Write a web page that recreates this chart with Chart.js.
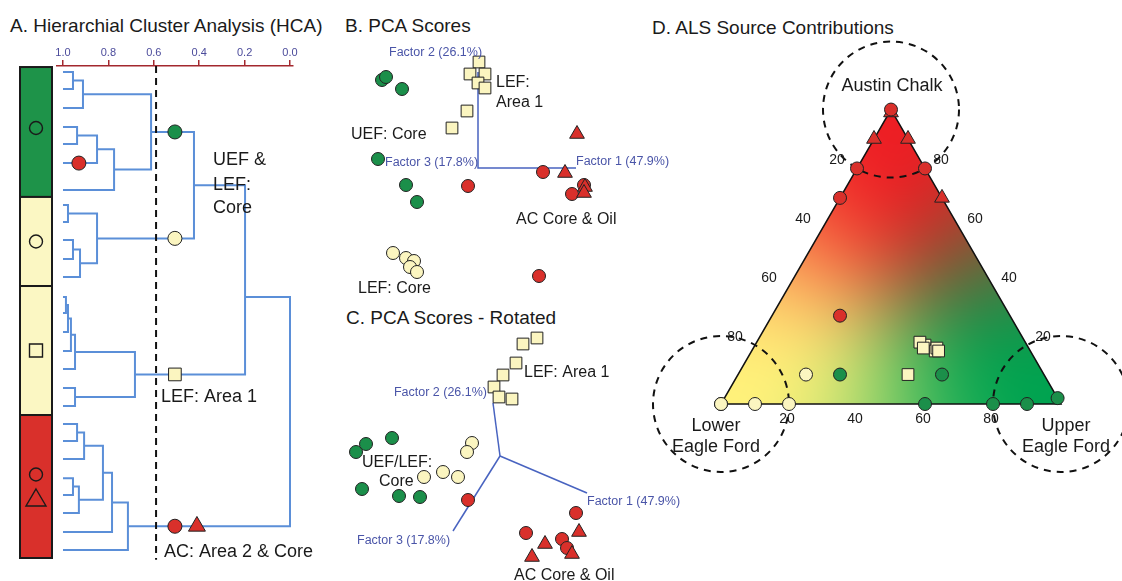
<!DOCTYPE html>
<html>
<head>
<meta charset="utf-8">
<script src="https://cdn.jsdelivr.net/npm/chart.js@4.4.0/dist/chart.umd.min.js"></script>
<style>
  body { margin: 0; background: #fff; width: 1122px; height: 581px; overflow: hidden; position: relative;
         font-family: "Liberation Sans", Arial, sans-serif; }
  canvas { position: absolute; left: 0; top: 0; }
  .ttl { position: absolute; font-size: 19px; line-height: 1; color: #1a1a1a; white-space: nowrap; }
</style>
</head>
<body>
<div class="ttl" style="left:10px;top:15.5px">A. Hierarchial Cluster Analysis (HCA)</div>
<div class="ttl" style="left:345px;top:15.5px">B. PCA Scores</div>
<div class="ttl" style="left:346px;top:307.5px">C. PCA Scores - Rotated</div>
<div class="ttl" style="left:652px;top:17.5px">D. ALS Source Contributions</div>
<canvas id="hca" width="1122" height="581"></canvas>
<canvas id="pcaB" width="1122" height="581"></canvas>
<canvas id="pcaC" width="1122" height="581"></canvas>
<canvas id="als" width="1122" height="581"></canvas>
<script>
// ---------- A. HCA dendrogram ----------
// leaf positions along the tree (leaf rows, top to bottom)
const leafRows = [0, 0.92, 1.96, 2.99, 3.91, 4.95, 6.41,
                  7.23, 8.15, 9.13, 10.16, 11.14,
                  12.23, 13.10, 14.13, 15.16, 16.14, 17.17, 18.15,
                  19.13, 20.05, 21.03, 22.07, 22.99, 23.97, 25.0, 25.98];
// merges: [idA, idB, similarity]; id >= leafRows.length means merge (id - 27)
const merges = [
  [0, 1, 0.956], [27, 2, 0.912], [3, 4, 0.938], [29, 5, 0.850], [30, 6, 0.775], [28, 31, 0.612],
  [7, 8, 0.978], [9, 10, 0.956], [34, 11, 0.925], [33, 35, 0.850],
  [32, 36, 0.423],
  [12, 13, 0.987], [38, 14, 0.978], [39, 15, 0.965], [40, 16, 0.947], [17, 18, 0.947], [41, 42, 0.683],
  [37, 43, 0.198],
  [19, 20, 0.938], [45, 21, 0.907], [22, 23, 0.956], [47, 24, 0.930], [46, 48, 0.824], [49, 25, 0.784], [50, 26, 0.714],
  [44, 51, 0.0]
];
const nodeRowOverride = { 44: 12.23 };
const hcaTicks = [1.0, 0.8, 0.6, 0.4, 0.2, 0.0];
const cutLevel = 0.59;
const bandEdges = [-0.27, 6.79, 11.63, 18.64, 26.41];
const bandClasses = ['uef', 'lefCore', 'lefArea', 'ac'];
// cluster markers: [node id, similarity, class]
const hcaMarkers = [[32, 0.507, 'uef'], [36, 0.507, 'lefCore'], [43, 0.507, 'lefArea'],
                    [51, 0.507, 'acCore'], [51, 0.41, 'acOil'], [5, 0.93, 'acCore']];

// ---------- B. PCA scores ----------
const bLefArea = [[0.1, 10.6], [-0.8, 9.4], [0.7, 9.4], [0, 8.5], [0.7, 8.0], [-1.1, 5.7], [-2.6, 4.0]];
const bUef = [[-9.6, 8.8], [-9.2, 9.1], [-7.6, 7.9], [-10.0, 0.9], [-7.2, -1.7], [-6.1, -3.4]];
const bLefCore = [[-8.5, -8.5], [-7.2, -9.0], [-6.4, -9.3], [-6.8, -9.9], [-6.1, -10.4]];
const bAcCore = [[-1.0, -1.8], [6.5, -0.4], [10.6, -1.7], [9.4, -2.6], [6.1, -10.8]];
const bAcOil = [[9.9, 3.4], [8.7, -0.5], [10.7, -1.9], [10.6, -2.5]];
const bLoadings = [[0, 9.6], [0, 0], [9.8, 0]];

// ---------- C. PCA scores rotated ----------
const cLefArea = [[3.7, 11.8], [2.3, 11.2], [1.6, 9.3], [0.3, 8.1], [-0.6, 6.9], [-0.1, 5.9], [1.2, 5.7]];
const cUef = [[-14.4, 0.4], [-13.4, 1.2], [-10.8, 1.8], [-13.8, -3.3], [-10.1, -4.0], [-8.0, -4.1]];
const cLefCore = [[-2.8, 1.3], [-3.3, 0.4], [-7.6, -2.1], [-5.7, -1.6], [-4.2, -2.1]];
const cAcCore = [[-3.2, -4.4], [7.6, -5.7], [2.6, -7.7], [6.2, -8.3], [6.7, -9.2]];
const cAcOil = [[7.9, -7.6], [4.5, -8.8], [3.2, -10.1], [7.2, -9.8]];
const cLoadings = [[[0, 0], [-0.7, 5.3]], [[0, 0], [8.7, -3.7]], [[0, 0], [-4.7, -7.5]]];

// ---------- D. ALS contributions, [UEF %, LEF %, AC %] ----------
const dUef = [[30, 60, 10], [60, 30, 10], [60, 40, 0], [80, 20, 0], [90, 10, 0], [98, 0, 2]];
const dLefCore = [[0, 100, 0], [0, 100, 0], [10, 90, 0], [20, 80, 0], [20, 70, 10]];
const dLefArea = [[50, 40, 10], [50, 30, 20], [48, 31, 21], [54, 28, 18], [54, 27, 19], [50, 31, 19], [55, 27, 18]];
const dAcCore = [[0, 0, 100], [0, 20, 80], [20, 0, 80], [0, 30, 70], [20, 50, 30]];
const dAcOil = [[0.5, 0.5, 99], [0, 10, 90], [10, 0, 90], [30, 0, 70]];
const ternTicks = [20, 40, 60, 80];

// ---------- styles ----------
Chart.defaults.font.family = '"Liberation Sans", Arial, sans-serif';
Chart.defaults.animation = false;
Chart.defaults.responsive = false;
Chart.defaults.devicePixelRatio = 1;
Chart.defaults.plugins.legend.display = false;
Chart.defaults.plugins.tooltip.enabled = false;

const GREEN = '#1b8f4a', YELLOW = '#fbf5c0', RED = '#d9302b';
const STYLE = {
  uef: { bg: GREEN, shape: 'circle' },
  lefCore: { bg: YELLOW, shape: 'circle' },
  lefArea: { bg: YELLOW, shape: 'rect' },
  acCore: { bg: RED, shape: 'circle' },
  acOil: { bg: RED, shape: 'triangle' }
};
const RADIUS = { circle: 6.5, rect: 8.3, triangle: 8.5 };
const BAND_FILL = { uef: '#1e9349', lefCore: '#fbf7c3', lefArea: '#fbf7c3', ac: '#d9302b' };
const BAND_SYMBOLS = { uef: ['circle'], lefCore: ['circle'], lefArea: ['rect'], ac: ['circle', 'triangle'] };
const FACTOR_BLUE = '#4a55a8';
const LOAD_BLUE = '#4863c0';

function pointSet(points, cls, scale) {
  const s = STYLE[cls];
  return {
    data: points.map(p => ({ x: p[0], y: p[1] })),
    pointStyle: s.shape, pointRadius: RADIUS[s.shape] * (scale || 1),
    backgroundColor: s.bg, borderColor: '#222', borderWidth: 1,
    showLine: false, clip: false, order: 0
  };
}
function lineSet(points, color, width, extra) {
  return Object.assign({
    data: points.map(p => ({ x: p[0], y: p[1] })), showLine: true, pointRadius: 0,
    borderColor: color, borderWidth: width, fill: false, clip: false, order: 2
  }, extra || {});
}
function hiddenScales(xmin, xmax, ymin, ymax) {
  return {
    x: { type: 'linear', display: false, min: xmin, max: xmax },
    y: { type: 'linear', display: false, min: ymin, max: ymax }
  };
}
function drawTexts(chart, items) {
  const { ctx, scales: { x, y } } = chart;
  ctx.save();
  items.forEach(t => {
    ctx.font = (t.size || 16) + 'px "Liberation Sans", Arial, sans-serif';
    ctx.fillStyle = t.color || '#1a1a1a';
    ctx.textAlign = t.align || 'left';
    ctx.textBaseline = 'middle';
    ctx.fillText(t.text, x.getPixelForValue(t.x) + (t.dx || 0), y.getPixelForValue(t.y) + (t.dy || 0));
  });
  ctx.restore();
}
function glyph(ctx, shape, cx, cy) {
  ctx.beginPath();
  if (shape === 'circle') ctx.arc(cx, cy, 6.5, 0, Math.PI * 2);
  else if (shape === 'rect') ctx.rect(cx - 6.5, cy - 6.5, 13, 13);
  else { ctx.moveTo(cx, cy - 9.5); ctx.lineTo(cx + 10, cy + 7.5); ctx.lineTo(cx - 10, cy + 7.5); ctx.closePath(); }
  ctx.stroke();
}

// ---------- A ----------
const nLeaf = leafRows.length;
const nodeRow = leafRows.slice();
const nodeH = leafRows.map(() => 1.0);
const dendroSets = [];
merges.forEach(([a, b, h], i) => {
  const id = nLeaf + i;
  nodeRow[id] = nodeRowOverride[id] !== undefined ? nodeRowOverride[id] : (nodeRow[a] + nodeRow[b]) / 2;
  nodeH[id] = h;
  dendroSets.push(lineSet([[nodeH[a], nodeRow[a]], [h, nodeRow[a]], [h, nodeRow[b]], [nodeH[b], nodeRow[b]]],
    '#5b8fd8', 2, { order: 3, borderJoinStyle: 'miter' }));
});
const hcaMarkerSets = hcaMarkers.map(([node, h, cls]) => {
  const s = pointSet([[h, nodeRow[node]]], cls, 1.08);
  if (cls === 'acOil') s.pointRadius = 9.8;
  return s;
});
const hcaLabels = [
  { text: 'UEF &', x: 0.339, y: 4.78, size: 18 },
  { text: 'LEF:', x: 0.339, y: 6.14, size: 18 },
  { text: 'Core', x: 0.339, y: 7.39, size: 18 },
  { text: 'LEF: Area 1', x: 0.568, y: 17.66, size: 18 },
  { text: 'AC: Area 2 & Core', x: 0.555, y: 26.09, size: 18 }
];
const hcaDecor = {
  id: 'hcaDecor',
  beforeDatasetsDraw(chart) {
    const { ctx, chartArea, scales: { y } } = chart;
    const right = chartArea.left - 5, w = 32;
    ctx.save();
    bandClasses.forEach((cls, i) => {
      const y0 = y.getPixelForValue(bandEdges[i]), y1 = y.getPixelForValue(bandEdges[i + 1]);
      ctx.fillStyle = BAND_FILL[cls];
      ctx.fillRect(right - w, y0, w, y1 - y0);
      ctx.strokeStyle = '#1a1a1a'; ctx.lineWidth = 2;
      ctx.strokeRect(right - w, y0, w, y1 - y0);
      const syms = BAND_SYMBOLS[cls];
      const mid = (y0 + y1) / 2 - (i === 0 ? 4 : 0);
      ctx.lineWidth = 1.4;
      syms.forEach((sh, k) => glyph(ctx, sh, right - w / 2, mid + (k - (syms.length - 1) / 2) * 24));
    });
    ctx.restore();
  },
  afterDatasetsDraw(chart) { drawTexts(chart, hcaLabels); }
};
new Chart(document.getElementById('hca'), {
  type: 'scatter',
  data: {
    datasets: [
      ...hcaMarkerSets,
      lineSet([[cutLevel, -0.33], [cutLevel, 26.5]], '#111', 2, { borderDash: [7, 5], order: 1 }),
      ...dendroSets
    ]
  },
  options: {
    layout: { padding: { left: 57, right: 829, top: 36, bottom: 0 }, autoPadding: false },
    scales: {
      x: {
        type: 'linear', position: 'top', reverse: true, min: -0.0132, max: 1.0264,
        afterBuildTicks: s => { s.ticks = hcaTicks.map(v => ({ value: v })); },
        afterFit: s => { s.height = 30; },
        ticks: { color: '#4b4b9b', font: { size: 11 }, padding: 0, maxRotation: 0, autoSkip: false,
                 callback: v => Number(v).toFixed(1) },
        grid: { drawOnChartArea: false, drawTicks: true, tickLength: 6, color: '#a3282e', lineWidth: 1.5 },
        border: { display: true, color: '#a3282e', width: 1.5 }
      },
      y: { type: 'linear', display: false, reverse: true, min: -0.326, max: 27.66 }
    }
  },
  plugins: [hcaDecor]
});

// ---------- B ----------
const bLabels = [
  { text: 'LEF:', x: 1.8, y: 8.5 }, { text: 'Area 1', x: 1.8, y: 6.5 },
  { text: 'UEF: Core', x: -12.7, y: 3.3 },
  { text: 'AC Core & Oil', x: 3.8, y: -5.2 },
  { text: 'LEF: Core', x: -12.0, y: -12.1 },
  { text: 'Factor 2 (26.1%)', x: -8.9, y: 11.5, size: 12.5, color: FACTOR_BLUE },
  { text: 'Factor 3 (17.8%)', x: -9.3, y: 0.5, size: 12.5, color: FACTOR_BLUE },
  { text: 'Factor 1 (47.9%)', x: 9.8, y: 0.6, size: 12.5, color: FACTOR_BLUE }
];
new Chart(document.getElementById('pcaB'), {
  type: 'scatter',
  data: {
    datasets: [
      pointSet(bAcOil, 'acOil'), pointSet(bAcCore, 'acCore'), pointSet(bLefCore, 'lefCore'),
      pointSet(bUef, 'uef'), pointSet(bLefArea, 'lefArea'),
      lineSet(bLoadings, LOAD_BLUE, 1.5)
    ]
  },
  options: {
    layout: { padding: { left: 330, right: 482, top: 40, bottom: 281 }, autoPadding: false },
    scales: hiddenScales(-14.8, 16.2, -13.2, 12.8)
  },
  plugins: [{ id: 'bText', afterDatasetsDraw: c => drawTexts(c, bLabels) }]
});

// ---------- C ----------
const cLabels = [
  { text: 'LEF: Area 1', x: 2.4, y: 8.3 },
  { text: 'UEF/LEF:', x: -13.8, y: -0.7 },
  { text: 'Core', x: -12.1, y: -2.6 },
  { text: 'AC Core & Oil', x: 1.4, y: -12.0 },
  { text: 'Factor 2 (26.1%)', x: -1.3, y: 6.3, size: 12.5, color: FACTOR_BLUE, align: 'right' },
  { text: 'Factor 1 (47.9%)', x: 8.7, y: -4.6, size: 12.5, color: FACTOR_BLUE },
  { text: 'Factor 3 (17.8%)', x: -14.3, y: -8.5, size: 12.5, color: FACTOR_BLUE }
];
new Chart(document.getElementById('pcaC'), {
  type: 'scatter',
  data: {
    datasets: [
      pointSet(cAcOil, 'acOil'), pointSet(cAcCore, 'acCore'), pointSet(cLefCore, 'lefCore'),
      pointSet(cUef, 'uef'), pointSet(cLefArea, 'lefArea'),
      ...cLoadings.map(l => lineSet(l, LOAD_BLUE, 1.5))
    ]
  },
  options: {
    layout: { padding: { left: 330, right: 482, top: 320, bottom: 0 }, autoPadding: false },
    scales: hiddenScales(-17, 14, -12.5, 13.6)
  },
  plugins: [{ id: 'cText', afterDatasetsDraw: c => drawTexts(c, cLabels) }]
});

// ---------- D ----------
const H = Math.sqrt(3) / 2;
const toXY = t => [t[0] + t[2] / 2, t[2] * H];   // [UEF, LEF, AC] -> cartesian
const dVertexLabels = [
  { text: 'Austin Chalk', x: 50.3, y: 93.5, align: 'center', size: 18 },
  { text: 'Lower', x: -1.5, y: -6.5, align: 'center', size: 18 },
  { text: 'Eagle Ford', x: -1.5, y: -12.6, align: 'center', size: 18 },
  { text: 'Upper', x: 101.5, y: -6.5, align: 'center', size: 18 },
  { text: 'Eagle Ford', x: 101.5, y: -12.6, align: 'center', size: 18 }
];
const tickLabels = [];
ternTicks.forEach(v => {
  const b = toXY([v, 100 - v, 0]), l = toXY([0, v, 100 - v]), r = toXY([100 - v, 0, v]);
  tickLabels.push({ text: String(v), x: b[0], y: b[1], dx: -2, dy: 15, align: 'center', size: 14 });
  tickLabels.push({ text: String(v), x: l[0], y: l[1], dx: -20, dy: -8, align: 'center', size: 14 });
  tickLabels.push({ text: String(v), x: r[0], y: r[1], dx: 16, dy: -8, align: 'center', size: 14 });
});
const CORNER = { red: [237, 30, 36], yellow: [255, 241, 122], green: [0, 163, 80] };
const ternaryDecor = {
  id: 'ternaryDecor',
  beforeDatasetsDraw(chart) {
    const { ctx, scales: { x, y } } = chart;
    const P = t => { const c = toXY(t); return [x.getPixelForValue(c[0]), y.getPixelForValue(c[1])]; };
    const A = P([0, 0, 100]), L = P([0, 100, 0]), U = P([100, 0, 0]);
    const x0 = Math.floor(L[0]), x1 = Math.ceil(U[0]), y0 = Math.floor(A[1]), y1 = Math.ceil(L[1]);
    const w = x1 - x0, h = y1 - y0;
    const off = document.createElement('canvas'); off.width = w; off.height = h;
    const octx = off.getContext('2d');
    const img = octx.createImageData(w, h);
    for (let j = 0; j < h; j++) {
      const a = Math.max(0, y.getValueForPixel(y0 + j + 0.5) / H);
      for (let i = 0; i < w; i++) {
        const u = Math.max(0, x.getValueForPixel(x0 + i + 0.5) - a / 2);
        const l = Math.max(0, 100 - a - u);
        const wr = a * a, wy = l * l, wg = u * u, s = wr + wy + wg || 1;
        const k = (j * w + i) * 4;
        for (let c = 0; c < 3; c++) {
          img.data[k + c] = (CORNER.red[c] * wr + CORNER.yellow[c] * wy + CORNER.green[c] * wg) / s;
        }
        img.data[k + 3] = 255;
      }
    }
    octx.putImageData(img, 0, 0);
    ctx.save();
    ctx.beginPath(); ctx.moveTo(A[0], A[1]); ctx.lineTo(U[0], U[1]); ctx.lineTo(L[0], L[1]); ctx.closePath();
    ctx.save(); ctx.clip(); ctx.drawImage(off, x0, y0); ctx.restore();
    ctx.strokeStyle = '#111'; ctx.lineWidth = 1.5; ctx.stroke();
    const rad = x.getPixelForValue(20) - x.getPixelForValue(0);
    ctx.setLineDash([7, 6]); ctx.lineWidth = 2; ctx.strokeStyle = '#111';
    [A, L, U].forEach(p => { ctx.beginPath(); ctx.arc(p[0], p[1], rad, 0, Math.PI * 2); ctx.stroke(); });
    ctx.restore();
  },
  afterDatasetsDraw(chart) { drawTexts(chart, tickLabels.concat(dVertexLabels)); }
};
const tern = pts => pts.map(toXY);
new Chart(document.getElementById('als'), {
  type: 'scatter',
  data: {
    datasets: [
      pointSet(tern(dAcCore), 'acCore'), pointSet(tern(dAcOil), 'acOil'), pointSet(tern(dLefArea), 'lefArea'),
      pointSet(tern(dLefCore), 'lefCore'), pointSet(tern(dUef), 'uef')
    ]
  },
  options: {
    layout: { padding: { left: 721, right: 61, top: 109.55, bottom: 177 }, autoPadding: false },
    scales: hiddenScales(0, 100, 0, 100 * H)
  },
  plugins: [ternaryDecor]
});
</script>
</body>
</html>
